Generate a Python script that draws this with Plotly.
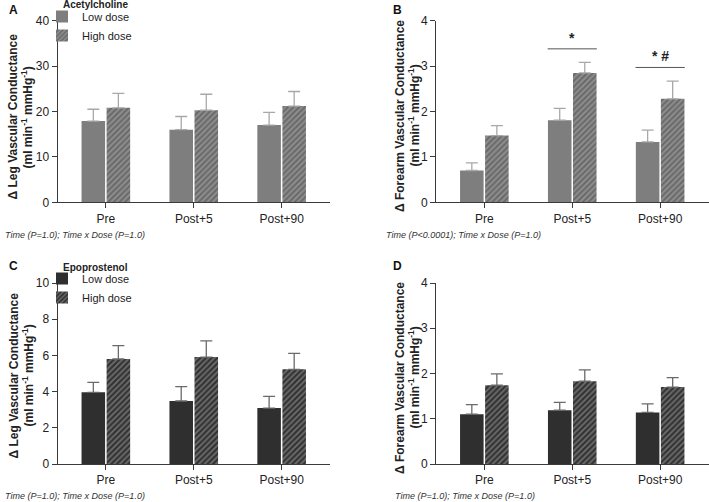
import plotly.graph_objects as go

categories = ["Pre", "Post+5", "Post+90"]

# Panel A: Acetylcholine, leg
a_low = [17.9, 16.0, 17.0]
a_low_sem = [2.6, 2.9, 2.8]
a_high = [20.8, 20.3, 21.2]
a_high_sem = [3.2, 3.5, 3.2]

# Panel B: Acetylcholine, forearm
b_low = [0.70, 1.81, 1.33]
b_low_sem = [0.17, 0.26, 0.26]
b_high = [1.47, 2.85, 2.28]
b_high_sem = [0.22, 0.23, 0.39]

# Panel C: Epoprostenol, leg
c_low = [3.96, 3.48, 3.09]
c_low_sem = [0.55, 0.79, 0.65]
c_high = [5.80, 5.91, 5.23]
c_high_sem = [0.74, 0.89, 0.88]

# Panel D: Epoprostenol, forearm
d_low = [1.10, 1.19, 1.14]
d_low_sem = [0.21, 0.17, 0.19]
d_high = [1.74, 1.83, 1.70]
d_high_sem = [0.25, 0.25, 0.21]

series_names = ["Low dose", "High dose"]
y_ticks_leg_a = [0, 10, 20, 30, 40]
y_ticks_forearm = [0, 1, 2, 3, 4]
y_ticks_leg_c = [0, 2, 4, 6, 8, 10]

W, H = 709, 502
FONT = "Liberation Sans, Arial, sans-serif"

ACH = dict(low="#7e7e7e", bg="#8c8c8c", fg="#666666", err="#a8a8a8")
EPO = dict(low="#2f2f2f", bg="#333333", fg="#6e6e6e", err="#6a6a6a")

fig = go.Figure()

panels = [
    ("x", "y", a_low, a_low_sem, a_high, a_high_sem, ACH, "legend", True),
    ("x2", "y2", b_low, b_low_sem, b_high, b_high_sem, ACH, "legend", False),
    ("x3", "y3", c_low, c_low_sem, c_high, c_high_sem, EPO, "legend2", True),
    ("x4", "y4", d_low, d_low_sem, d_high, d_high_sem, EPO, "legend2", False),
]

for xa, ya, lo, lo_e, hi, hi_e, col, leg, show in panels:
    fig.add_trace(go.Bar(
        x=categories, y=lo, name=series_names[0], xaxis=xa, yaxis=ya,
        marker=dict(color=col["low"], line=dict(width=0)),
        error_y=dict(type="data", array=lo_e, symmetric=False, arrayminus=[0]*3,
                     color=col["err"], thickness=1.3, width=6),
        legend=leg, showlegend=show,
    ))
    fig.add_trace(go.Bar(
        x=categories, y=hi, name=series_names[1], xaxis=xa, yaxis=ya,
        marker=dict(color=col["bg"], line=dict(width=0),
                    pattern=dict(shape="/", bgcolor=col["bg"], fgcolor=col["fg"],
                                 size=4, solidity=0.45, fillmode="replace")),
        error_y=dict(type="data", array=hi_e, symmetric=False, arrayminus=[0]*3,
                     color=col["err"], thickness=1.3, width=6),
        legend=leg, showlegend=show,
    ))

def px_x(p):
    return p / W

def px_y(p):
    return 1 - p / H

dom_x_left = [px_x(57.5), px_x(330)]
dom_x_right = [px_x(436), px_x(708.5)]
dom_y_top = [px_y(202.3), px_y(20.7)]
dom_y_bot = [px_y(464), px_y(283)]

axis_common = dict(showline=True, linecolor="#3a3a3a", linewidth=1,
                   ticks="outside", ticklen=5, tickcolor="#3a3a3a",
                   showgrid=False, zeroline=False, automargin=False,
                   tickfont=dict(family=FONT, size=12, color="#222"))

xcommon = dict(axis_common, range=[-0.55, 2.55], type="category")

def yax(dom, anchor, rng, ticks):
    return dict(axis_common, domain=dom, anchor=anchor, range=rng, tickvals=ticks)

legend_common = dict(xanchor="left", yanchor="top", bgcolor="rgba(0,0,0,0)",
                     tracegroupgap=0, itemwidth=30,
                     font=dict(family=FONT, size=11, color="#222"))

fig.update_layout(
    width=W, height=H,
    margin=dict(l=0, r=0, t=0, b=0, autoexpand=False),
    paper_bgcolor="white", plot_bgcolor="white",
    barmode="group", bargap=0.43, bargroupgap=0.06,
    font=dict(family=FONT, color="#222"),
    xaxis=dict(xcommon, domain=dom_x_left, anchor="y"),
    yaxis=yax(dom_y_top, "x", [0, 40], y_ticks_leg_a),
    xaxis2=dict(xcommon, domain=dom_x_right, anchor="y2"),
    yaxis2=yax(dom_y_top, "x2", [0, 4], y_ticks_forearm),
    xaxis3=dict(xcommon, domain=dom_x_left, anchor="y3"),
    yaxis3=yax(dom_y_bot, "x3", [0, 10], y_ticks_leg_c),
    xaxis4=dict(xcommon, domain=dom_x_right, anchor="y4"),
    yaxis4=yax(dom_y_bot, "x4", [0, 4], y_ticks_forearm),
    legend=dict(legend_common, x=px_x(42), y=px_y(2)),
    legend2=dict(legend_common, x=px_x(42), y=px_y(264)),
)

annots = []
# y-axis titles (two lines each)
units = "(ml min<sup>-1</sup> mmHg<sup>-1</sup>)"
for line1, x1, x2, yc in [("Δ Leg Vascular Conductance", 12.5, 26.5, 117),
                          ("Δ Forearm Vascular Conductance", 400, 413.5, 116),
                          ("Δ Leg Vascular Conductance", 13.5, 27.5, 376),
                          ("Δ Forearm Vascular Conductance", 400, 413.5, 378)]:
    annots.append(dict(text=f"<b>{line1}</b>", x=px_x(x1), y=px_y(yc), xref="paper", yref="paper",
                       textangle=-90, xanchor="center", yanchor="middle", showarrow=False,
                       font=dict(family=FONT, size=12, color="#222")))
    annots.append(dict(text=f"<b>{units}</b>", x=px_x(x2), y=px_y(yc), xref="paper", yref="paper",
                       textangle=-90, xanchor="center", yanchor="middle", showarrow=False,
                       font=dict(family=FONT, size=12, color="#222")))

for txt, x, y in [("A", 13, 10), ("B", 397, 10), ("C", 13, 266), ("D", 397, 266)]:
    annots.append(dict(text=f"<b>{txt}</b>", x=px_x(x), y=px_y(y), xref="paper", yref="paper",
                       xanchor="center", yanchor="middle", showarrow=False,
                       font=dict(family=FONT, size=12, color="#111")))
for txt, x, y in [("Acetylcholine", 61, 5), ("Epoprostenol", 61, 267)]:
    annots.append(dict(text=f"<b>{txt}</b>", x=px_x(x), y=px_y(y), xref="paper", yref="paper",
                       xanchor="left", yanchor="middle", showarrow=False,
                       font=dict(family=FONT, size=10, color="#222")))
for txt, x, y in [("Time (P=1.0); Time x Dose (P=1.0)", 3, 235),
                  ("Time (P<0.0001); Time x Dose (P=1.0)", 384, 235),
                  ("Time (P=1.0); Time x Dose (P=1.0)", 3, 496),
                  ("Time (P=1.0); Time x Dose (P=1.0)", 393, 496)]:
    annots.append(dict(text=f"<i>{txt}</i>", x=px_x(x), y=px_y(y), xref="paper", yref="paper",
                       xanchor="left", yanchor="middle", showarrow=False,
                       font=dict(family=FONT, size=9, color="#333")))

# significance markers in panel B
sig = [(1, 3.38, 3.63, "*"), (2, 2.97, 3.22, "* #")]
shapes = []
for xi, yline, ytext, txt in sig:
    shapes.append(dict(type="line", xref="x2", yref="y2", x0=xi - 0.28, x1=xi + 0.28,
                       y0=yline, y1=yline, line=dict(color="#555", width=1)))
    annots.append(dict(text=f"<b>{txt}</b>", x=xi, y=ytext, xref="x2", yref="y2",
                       showarrow=False, xanchor="center", yanchor="middle",
                       font=dict(family=FONT, size=14, color="#222")))

fig.update_layout(annotations=annots, shapes=shapes)

fig.write_html("out.html", config=dict(displayModeBar=False),
               post_script="document.body.style.margin='0';document.body.style.overflow='hidden';")
